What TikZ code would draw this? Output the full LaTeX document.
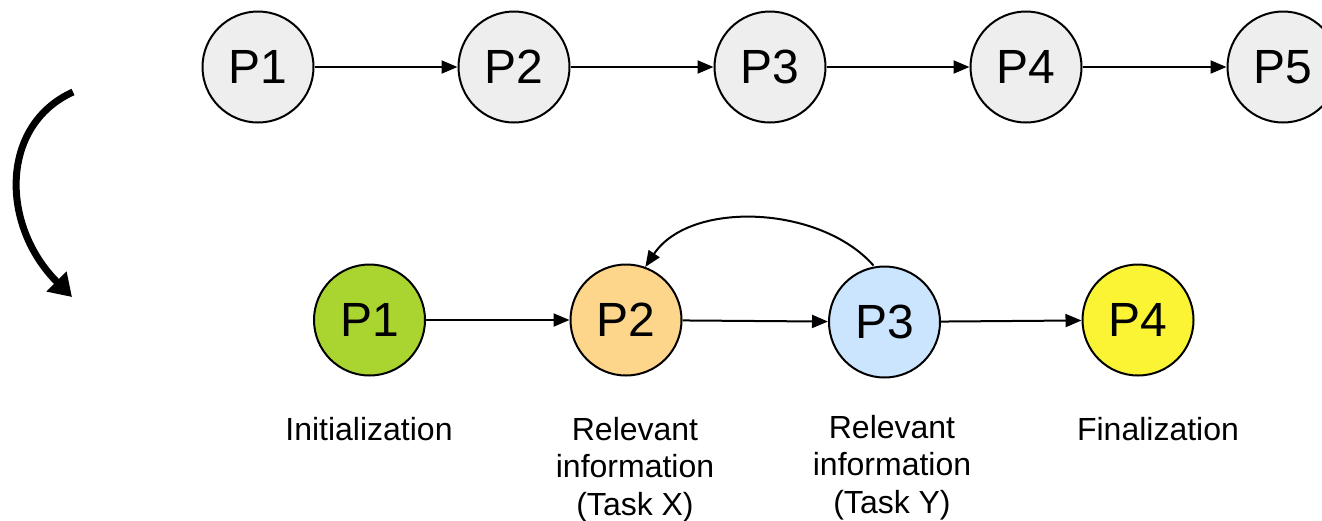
\documentclass[tikz,border=0pt]{standalone}
\usepackage{fontspec}
\setmainfont{Liberation Sans}
\usetikzlibrary{arrows.meta}
\definecolor{stepgrey}{HTML}{EEEEEE}
\definecolor{initgreen}{HTML}{AAD430}
\definecolor{taskorange}{HTML}{FDD68B}
\definecolor{taskblue}{HTML}{CCE5FF}
\definecolor{finalyellow}{HTML}{FAF434}
\begin{document}
\begin{tikzpicture}[x=1pt,y=-1pt,
  phase/.style={circle,draw=black,line width=2pt,minimum size=111pt,inner sep=0pt,
    font=\fontsize{48}{56}\selectfont},
  caption/.style={align=center,anchor=base,inner sep=0pt,
    font=\fontsize{32}{37.5}\selectfont},
  flow/.style={line width=2pt,-{Triangle[length=16pt,width=13pt]}},
  bigflow/.style={line width=7pt,-{Triangle[length=22pt,width=27pt]}}]
  \useasboundingbox (0,0) rectangle (1322,520);

  % original sequence of phases
  \node[phase,fill=stepgrey] (a1) at (258,67) {P1};
  \node[phase,fill=stepgrey] (a2) at (514,67) {P2};
  \node[phase,fill=stepgrey] (a3) at (770,67) {P3};
  \node[phase,fill=stepgrey] (a4) at (1026,67) {P4};
  \node[phase,fill=stepgrey] (a5) at (1283,67) {P5};
  \draw[flow] (a1) -- (a2);
  \draw[flow] (a2) -- (a3);
  \draw[flow] (a3) -- (a4);
  \draw[flow] (a4) -- (a5);

  % transformation arrow
  \coordinate (t0) at (73,92);
  \coordinate (t1) at (72,297);
  \draw[bigflow] (t0) .. controls (0,125) and (0,225) .. (t1);

  % reorganised phases
  \node[phase,fill=initgreen]   (b1) at (369.5,320) {P1};
  \node[phase,fill=taskorange]  (b2) at (626,320) {P2};
  \node[phase,fill=taskblue]    (b3) at (884.5,322) {P3};
  \node[phase,fill=finalyellow] (b4) at (1138,320) {P4};
  \draw[flow] (b1) -- (b2);
  \draw[flow] (b2) -- (b3);
  \draw[flow] (b3) -- (b4);
  \draw[flow] (b3.north) ++(-11,0) coordinate (r0)
    (r0) .. controls (820,205) and (690,200) .. (b2.70);

  % captions (multi-line captions sit on the baseline of their last line)
  \node[caption] (c1) at (369,440) {Initialization};
  \node[caption] (c2) at (635,515) {Relevant\\information\\(Task X)};
  \node[caption] (c3) at (892,513) {Relevant\\information\\(Task Y)};
  \node[caption] (c4) at (1158,440) {Finalization};
\end{tikzpicture}
\end{document}
